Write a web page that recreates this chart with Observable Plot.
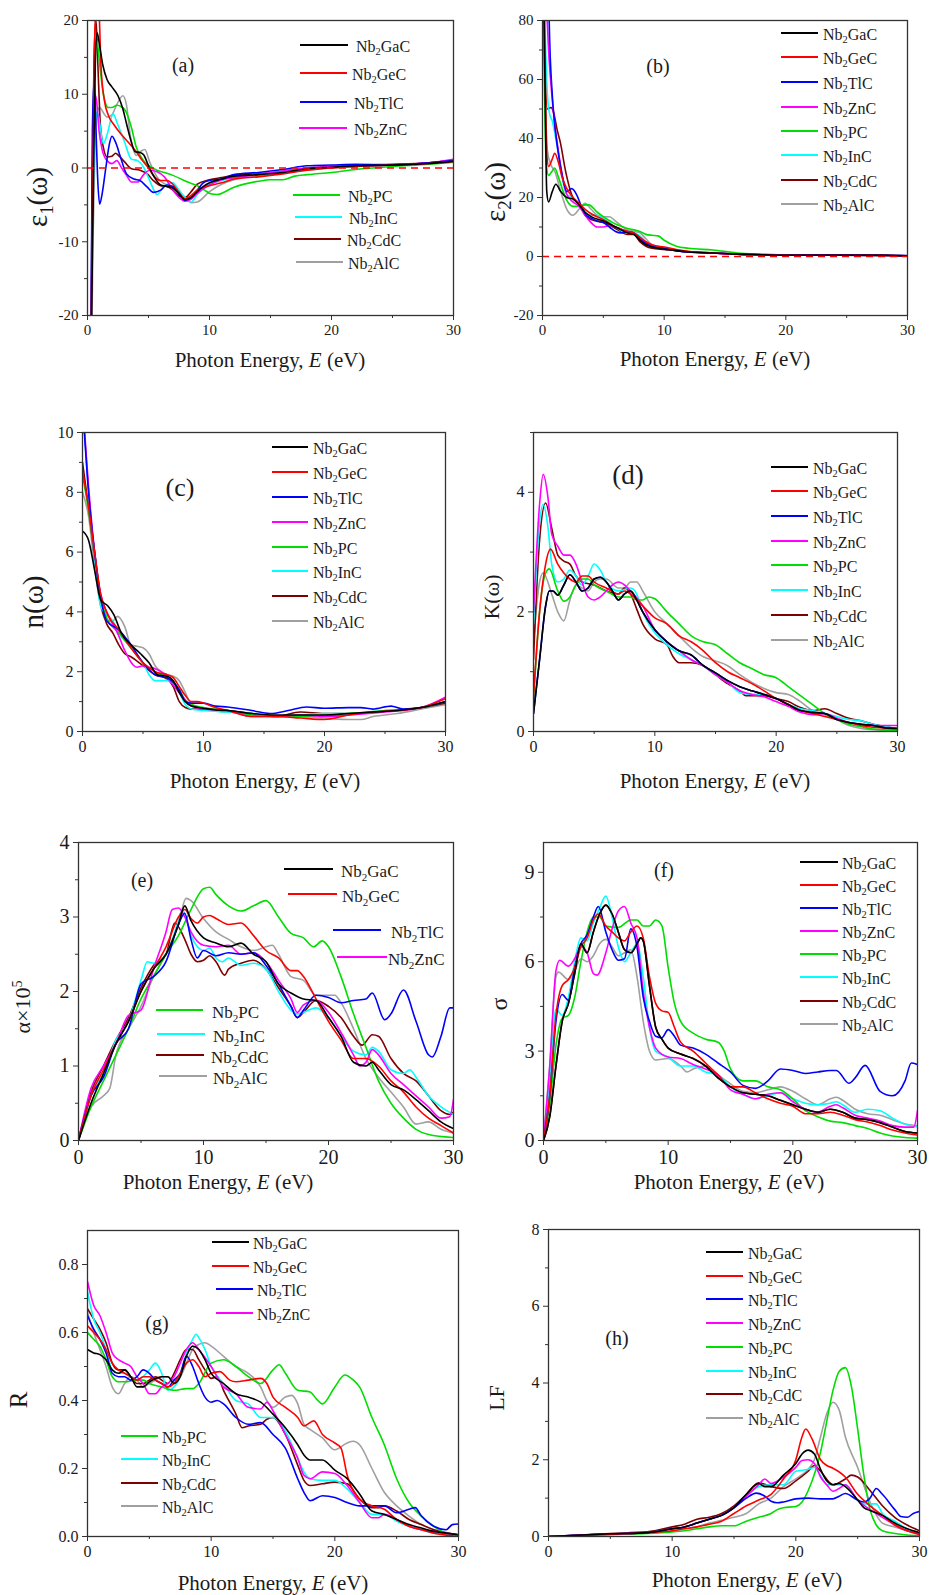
<!DOCTYPE html>
<html><head><meta charset="utf-8">
<script src="https://cdn.jsdelivr.net/npm/d3@7"></script>
<script src="https://cdn.jsdelivr.net/npm/@observablehq/plot@0.6"></script>
<style>
body{margin:0;background:#fff;}
#root{position:relative;width:929px;height:1595px;background:#fff;overflow:hidden;font-family:'Liberation Serif','Times New Roman',serif;color:#1a1a1a;}
.t{position:absolute;white-space:nowrap;line-height:1;font-family:'Liberation Serif','Times New Roman',serif;}
.s{font-size:65%;position:relative;top:0.32em;}
.sp{font-size:65%;position:relative;top:-0.55em;}
</style></head>
<body><div id="root"></div>
<script>
// ---- series ----
const names = ["GaC","GeC","TlC","ZnC","PC","InC","CdC","AlC"];
const colors = ["#000000","#ff0000","#0000ff","#ff00ff","#00dd00","#00ffff","#7f0000","#a0a0a0"];
const xTicks = [0,10,20,30];
const xMinor = [5,15,25];

// (a) eps1 : [E, value]
const eps1 = [
 [[0.25,-30],[0.5,0],[0.65,15],[0.8,18.3],[1.0,16.5],[1.25,14],[1.6,12],[2.0,11],[2.5,9.8],[2.9,8],[3.2,6],[3.6,3.5],[3.9,2.2],[4.3,2.1],[4.6,1.8],[5.0,0.3],[5.5,-1.3],[6.0,-2.3],[6.5,-2.5],[7.0,-2.7],[7.5,-3.5],[8.0,-4.3],[8.5,-4.0],[9.0,-3.2],[9.5,-2.5],[10,-2.0],[11,-1.5],[12,-1.1],[14,-0.9],[16,-0.6],[18,-0.1],[20,0.1],[22,0.3],[25,0.4],[28,0.6],[30,0.9]],
 [[0.25,-30],[0.45,0],[0.6,18],[0.75,23],[0.95,21],[1.1,14],[1.4,9],[1.7,7.2],[2.2,5.8],[2.8,4.5],[3.5,3.2],[4,2.2],[4.5,1.0],[5.0,0],[5.5,-1.2],[6.0,-1.7],[6.5,-1.7],[7.0,-2.2],[7.5,-3.3],[8.0,-4.2],[8.5,-3.7],[9,-3.0],[9.5,-2.6],[10,-2.4],[11,-2.0],[12,-1.5],[14,-1.2],[16,-0.8],[18,-0.3],[20,0],[22,0.2],[25,0.4],[28,0.6],[30,0.9]],
 [[0.25,-30],[0.4,5],[0.55,12],[0.7,5],[0.85,-2],[1.0,-4.9],[1.2,-3.5],[1.5,0],[1.8,3.3],[2.0,4.3],[2.3,3.5],[2.7,1.5],[3.2,-0.8],[3.8,-1.5],[4.3,-1.7],[4.9,-2.6],[5.4,-3.3],[6.0,-3.0],[6.5,-2.3],[7.0,-2.5],[7.5,-3.5],[8.0,-4.4],[8.5,-4.0],[9.0,-3.0],[9.5,-2.0],[10,-1.7],[11,-1.5],[12,-0.9],[14,-0.6],[16,-0.2],[18,0.3],[20,0.4],[22,0.5],[25,0.4],[28,0.7],[30,1.0]],
 [[0.25,-30],[0.45,2],[0.6,10],[0.75,9],[0.95,5],[1.2,2.5],[1.6,1.0],[2.0,0.6],[2.4,1.0],[2.8,0],[3.2,-1.0],[3.6,-1.9],[4.1,-1.9],[4.6,-0.9],[5.1,-0.3],[5.7,-0.5],[6.3,-1.2],[7.0,-3.0],[7.5,-4.0],[8.0,-4.5],[8.5,-4.2],[9.0,-3.4],[10,-2.3],[11,-1.6],[12,-1.3],[14,-0.9],[16,-0.4],[18,0],[20,0.2],[22,0.3],[25,0.4],[28,0.7],[30,1.2]],
 [[0.25,-30],[0.45,0],[0.6,14],[0.77,17.3],[1.0,14],[1.3,10],[1.7,8.2],[2.0,8.2],[2.4,8.5],[2.8,8.3],[3.1,7.8],[3.6,5.5],[4.0,2.8],[4.5,1.2],[4.9,0.5],[5.7,-0.3],[6.3,-0.6],[7.0,-1.0],[8.2,-1.9],[9.0,-2.4],[9.6,-3.0],[10.1,-3.5],[10.6,-3.6],[12,-2.6],[14,-1.8],[15,-1.6],[16,-1.6],[17,-1.1],[18,-0.9],[20,-0.6],[22,-0.2],[25,0.2],[28,0.5],[30,0.8]],
 [[0.25,-30],[0.45,-5],[0.6,5],[0.8,7.6],[1.0,6],[1.3,3.3],[1.6,4.5],[2.1,7.3],[2.5,5.8],[3.0,3.7],[3.6,1.2],[4.1,1.0],[4.6,0.1],[5.1,-1.7],[5.7,-3.6],[6.2,-2.6],[7.0,-2.0],[7.5,-3.0],[8.0,-4.0],[8.5,-4.6],[9.0,-3.6],[10,-2.2],[11,-1.7],[12,-1.3],[14,-0.9],[16,-0.5],[18,0],[20,0.1],[22,0.3],[25,0.4],[28,0.6],[30,0.9]],
 [[0.25,-30],[0.4,0],[0.55,16],[0.7,20],[0.85,14],[1.05,6],[1.3,2.8],[1.6,1.5],[2.0,1.6],[2.3,2.0],[2.6,1.6],[3.0,0.9],[3.6,-0.1],[4.3,-0.3],[4.9,-0.8],[5.4,-1.7],[6.0,-2.4],[6.5,-2.5],[7.0,-3.0],[7.5,-3.8],[8.0,-4.0],[8.5,-3.2],[9.0,-2.2],[10,-1.6],[11,-1.3],[12,-1.0],[14,-0.8],[16,-0.5],[18,0],[20,0.2],[22,0.4],[25,0.5],[28,0.7],[30,1.0]],
 [[0.3,-30],[0.45,-10],[0.6,2],[0.8,7.5],[1.0,8.2],[1.3,7.5],[1.6,6.9],[2.0,7.2],[2.4,8.6],[2.9,9.8],[3.2,8.5],[3.5,4.5],[3.8,2.3],[4.0,1.7],[4.4,2.3],[4.7,2.5],[5.1,0.8],[5.7,-1.2],[6.5,-2.3],[7.0,-2.5],[7.5,-3.2],[8.0,-4.0],[8.5,-4.7],[9.0,-4.6],[10,-3.2],[11,-2.2],[12,-1.6],[14,-1.1],[16,-0.7],[18,-0.3],[20,0],[22,0.2],[25,0.4],[28,0.6],[30,0.8]]
];

// (b) eps2
const eps2 = [
 [[0,120],[0.2,60],[0.35,22],[0.5,18.5],[0.8,22],[1.1,24.5],[1.5,22],[2.0,20],[2.5,19.5],[3.0,17.5],[3.5,15],[4,13.5],[5,12],[6,10],[7,8],[7.5,7.5],[8,5.5],[8.5,4],[9,3.2],[10,2.5],[11,2],[12,1.5],[14,1.2],[16,0.8],[18,0.6],[20,0.4],[25,0.4],[28,0.4],[30,0.2]],
 [[0,130],[0.2,70],[0.35,35],[0.5,30.5],[0.8,33],[1.0,35],[1.3,32],[1.6,27],[2.0,23],[2.5,20],[3.0,18],[3.5,16],[4,14.5],[5,12.5],[6,10],[7,8.5],[7.5,8],[8,6.5],[8.5,5],[9,4],[10,3.2],[11,2.4],[12,1.8],[14,1.2],[16,0.8],[18,0.6],[20,0.4],[25,0.4],[28,0.4],[30,0.2]],
 [[0,200],[0.4,120],[0.55,80],[0.8,55],[1.0,45],[1.3,35],[1.6,28],[2.0,22],[2.4,23],[2.8,21],[3.2,17],[3.6,14],[4,13],[4.5,12],[5,11.5],[5.5,10],[6,8.5],[6.5,8],[7,8.5],[7.5,8],[8,6],[8.5,4.5],[9,3.5],[10,2.8],[11,2.0],[12,1.5],[14,1.2],[16,0.8],[18,0.6],[20,0.5],[22,0.6],[25,0.6],[28,0.5],[30,0.3]],
 [[0,150],[0.3,90],[0.5,70],[0.7,58],[1.0,45],[1.3,36],[1.6,28],[2.0,21],[2.5,18.5],[3.0,17],[3.5,14],[4,11.5],[4.5,10],[5,10],[5.5,10.5],[6,10],[7,8.5],[7.5,8],[8,6.5],[8.5,4.5],[9,3.5],[10,2.6],[11,2.0],[12,1.6],[14,1.2],[16,0.8],[18,0.6],[20,0.4],[25,0.4],[30,0.2]],
 [[0,100],[0.15,60],[0.3,32],[0.5,27.5],[0.8,29],[1.0,30],[1.3,27],[1.7,22],[2.0,19],[2.5,17],[3.0,17],[3.5,17.5],[3.8,17.5],[4.5,15],[5,13.5],[6,11],[7,9.5],[8,8.5],[8.5,7.5],[9,7.2],[9.5,7],[10,5.5],[11,3.5],[12,2.8],[14,2.2],[16,1.2],[18,0.8],[20,0.5],[25,0.4],[30,0.2]],
 [[0,130],[0.2,80],[0.4,55],[0.6,48],[0.8,46],[1.0,42],[1.3,35],[1.6,27],[2.0,21],[2.5,20],[3.0,18],[3.5,15],[4,14],[4.5,14],[5,13],[6,10],[7,8],[7.5,8],[8,7],[8.5,5],[9,3.5],[10,2.6],[11,2.0],[12,1.5],[14,1.2],[16,0.8],[18,0.6],[20,0.4],[25,0.4],[30,0.2]],
 [[0,110],[0.2,65],[0.4,50],[0.7,50.5],[0.9,49],[1.2,43],[1.5,38],[1.8,31],[2.0,27],[2.5,20],[3.0,18],[3.5,14],[4,12.5],[5,11.5],[6,9.5],[7,7.5],[7.5,7.5],[8,5],[8.5,3.5],[9,2.8],[10,2.4],[11,2.0],[12,1.5],[14,1.2],[16,0.8],[18,0.6],[20,0.4],[25,0.4],[30,0.2]],
 [[0,110],[0.2,60],[0.4,36],[0.7,31],[1.0,29],[1.5,22],[2.0,16],[2.5,14],[3.0,16],[3.5,18],[4,16],[4.5,14],[5,13.5],[5.5,13.5],[6,12],[7,9],[7.5,8.5],[8,8],[8.5,6],[9,4],[10,3],[11,2.2],[12,1.6],[14,1.2],[16,0.8],[18,0.6],[20,0.4],[25,0.4],[30,0.2]]
];

// (c) refractive index n
const nIdx = [
 [[0,6.7],[0.5,6.4],[1,5.4],[1.5,4.4],[2.1,4.2],[2.6,3.9],[3.2,3.3],[4,2.9],[4.8,2.6],[5.5,2.3],[6.2,1.9],[7,1.85],[7.5,1.7],[8,1.3],[8.5,1.0],[9,0.85],[10,0.78],[11,0.72],[12,0.7],[14,0.6],[16,0.55],[18,0.55],[20,0.55],[22,0.6],[24,0.65],[26,0.7],[28,0.8],[30,1.0]],
 [[0,8.7],[0.5,7.5],[1,6],[1.5,4.6],[2.1,3.9],[3,3.4],[4,2.8],[5,2.3],[6,2.0],[7,1.9],[7.5,1.8],[8,1.5],[8.5,1.2],[9,1.0],[9.5,1.0],[10,0.95],[11,0.8],[12,0.7],[14,0.5],[16,0.5],[18,0.45],[20,0.4],[22,0.55],[24,0.65],[26,0.7],[28,0.8],[30,1.1]],
 [[0,11],[0.5,8],[1,6],[1.5,4.5],[2,3.7],[3,3.4],[4,2.9],[5,2.3],[6,1.9],[7,1.8],[8,1.4],[8.5,1.0],[9,0.95],[10,0.95],[11,0.85],[12,0.82],[14,0.7],[15.5,0.6],[17,0.7],[18.5,0.82],[20,0.78],[22,0.8],[23,0.8],[24,0.75],[25.5,0.85],[26.5,0.75],[28,0.8],[30,1.0]],
 [[0,11],[0.5,8.2],[1,6],[1.5,4.6],[2,4],[3,3.2],[3.5,2.7],[4.5,2.15],[5,2.2],[5.5,2.15],[6,2.1],[6.5,2.0],[7,1.8],[8,1.3],[9,0.85],[10,0.75],[12,0.7],[14,0.5],[16,0.5],[18,0.55],[20,0.5],[22,0.55],[25,0.65],[28,0.8],[30,1.15]],
 [[0,8.6],[0.5,7.4],[1,6],[1.5,4.5],[2,3.8],[3,3.3],[4,2.8],[5,2.3],[6,2.0],[7,1.8],[8,1.4],[8.5,1.05],[9,0.9],[10,0.8],[12,0.7],[14,0.55],[16,0.5],[18,0.5],[20,0.55],[22,0.6],[25,0.7],[28,0.8],[30,1.0]],
 [[0,11],[0.5,8],[1,5.8],[1.5,4.2],[2,3.9],[2.5,3.7],[3,3.3],[4,2.8],[5,2.3],[5.5,1.9],[6,1.7],[7,1.7],[8,1.3],[8.5,0.9],[9,0.75],[10,0.7],[12,0.65],[14,0.6],[16,0.5],[18,0.55],[20,0.6],[22,0.6],[25,0.7],[28,0.8],[30,1.0]],
 [[0,9],[0.5,7.5],[1,5.8],[1.5,4.3],[2,3.6],[2.5,3.3],[3,2.9],[3.5,2.6],[4,2.5],[5,2.2],[6,1.9],[7,1.75],[7.5,1.5],[8,1.0],[8.5,0.8],[9,0.75],[10,0.75],[12,0.7],[14,0.6],[16,0.5],[18,0.65],[20,0.6],[22,0.6],[24,0.65],[26,0.7],[28,0.8],[30,0.95]],
 [[0,8],[0.5,7.2],[1,5.5],[1.5,4.2],[2,3.7],[2.5,3.7],[2.9,3.85],[3.5,3.5],[4,2.9],[4.5,2.85],[5,2.8],[5.5,2.6],[6,2.2],[7,1.9],[7.5,1.85],[8,1.7],[8.5,1.3],[9,0.9],[10,0.75],[12,0.65],[14,0.6],[16,0.5],[18,0.5],[20,0.45],[22,0.4],[23,0.4],[24,0.5],[26,0.6],[28,0.75],[30,0.9]]
];

// (d) extinction coefficient K
const kExt = [
 [[0,0.3],[0.5,1.2],[1,2.1],[1.3,2.35],[1.6,2.35],[2,2.28],[2.5,2.45],[3,2.62],[3.5,2.5],[4,2.35],[4.5,2.4],[5,2.55],[5.5,2.58],[6,2.5],[6.5,2.35],[7,2.2],[7.5,2.3],[8,2.35],[8.5,2.2],[9,2.0],[10,1.7],[11,1.5],[12,1.35],[13,1.28],[14,1.1],[15,0.98],[16,0.85],[17,0.75],[18,0.68],[19,0.62],[20,0.55],[21,0.45],[22,0.35],[23,0.32],[24,0.3],[25,0.2],[26,0.15],[27,0.12],[28,0.1],[29,0.06],[30,0.05]],
 [[0,0.6],[0.5,2],[1,2.8],[1.4,3.05],[2,2.8],[2.5,2.65],[3,2.55],[3.5,2.5],[4,2.6],[4.5,2.6],[5,2.5],[6,2.4],[7,2.3],[7.5,2.35],[8,2.3],[9,2.1],[10,1.9],[11,1.8],[12,1.6],[13,1.5],[14,1.35],[15,1.15],[16,1.0],[17,0.9],[18,0.8],[19,0.68],[20,0.55],[21,0.45],[22,0.35],[23,0.3],[24,0.25],[25,0.2],[26,0.15],[27,0.1],[28,0.07],[30,0.05]],
 [[0,0.3],[0.5,1.2],[1,2.1],[1.3,2.35],[1.6,2.35],[2,2.28],[2.5,2.45],[3,2.62],[3.5,2.5],[4,2.35],[4.5,2.4],[5,2.55],[5.5,2.58],[6,2.5],[6.5,2.35],[7,2.2],[7.5,2.3],[8,2.35],[8.5,2.2],[9,2.0],[10,1.7],[11,1.5],[12,1.35],[13,1.28],[14,1.1],[15,0.98],[16,0.85],[17,0.75],[18,0.68],[19,0.62],[20,0.55],[21,0.45],[22,0.35],[23,0.32],[24,0.3],[25,0.2],[26,0.15],[27,0.12],[28,0.1],[29,0.06],[30,0.05]],
 [[0,2],[0.5,3.8],[0.8,4.3],[1.2,3.9],[1.5,3.3],[2,3.1],[2.5,2.95],[3,2.95],[3.5,2.8],[4,2.5],[4.5,2.25],[5,2.2],[5.5,2.25],[6,2.35],[6.5,2.45],[7,2.5],[7.5,2.45],[8,2.35],[9,2.1],[10,1.7],[11,1.5],[12,1.35],[13,1.2],[14,1.1],[15,0.95],[16,0.82],[17,0.68],[18,0.62],[19,0.58],[20,0.5],[21,0.42],[22,0.32],[23,0.28],[24,0.3],[25,0.22],[26,0.15],[28,0.1],[30,0.1]],
 [[0,0.5],[0.5,2],[1,2.65],[1.3,2.72],[2,2.35],[2.5,2.18],[3,2.25],[3.5,2.45],[4,2.55],[4.5,2.55],[5,2.45],[6,2.35],[7,2.25],[8,2.25],[8.5,2.2],[9,2.2],[9.5,2.25],[10,2.22],[11,2.0],[12,1.8],[13,1.6],[14,1.5],[15,1.45],[16,1.3],[17,1.15],[18,1.05],[19,0.95],[20,0.9],[21,0.75],[22,0.6],[23,0.45],[24,0.3],[25,0.2],[26,0.12],[27,0.08],[28,0.04],[30,0.02]],
 [[0,1.8],[0.5,3.5],[0.8,3.8],[1.2,3.4],[1.5,2.8],[2,2.5],[2.5,2.55],[3,2.7],[3.5,2.6],[4,2.45],[4.5,2.6],[5,2.8],[5.5,2.7],[6,2.5],[7,2.35],[8,2.4],[8.5,2.3],[9,2.0],[10,1.65],[11,1.45],[12,1.3],[13,1.2],[14,1.1],[15,0.95],[16,0.82],[17,0.65],[18,0.62],[19,0.62],[20,0.55],[21,0.45],[22,0.38],[23,0.35],[24,0.3],[25,0.25],[26,0.2],[27,0.18],[28,0.12],[30,0.05]],
 [[0,1.2],[0.5,3.2],[1.0,3.82],[1.5,3.4],[2,2.95],[2.5,2.85],[3,2.8],[3.5,2.6],[4,2.5],[5,2.45],[6,2.35],[7,2.3],[7.5,2.4],[8,2.3],[8.5,2.05],[9,1.8],[10,1.55],[11,1.45],[11.5,1.25],[12,1.15],[13,1.15],[14,1.1],[15,0.95],[16,0.8],[17,0.68],[17.5,0.6],[18,0.6],[19,0.6],[20,0.55],[21,0.5],[22,0.4],[23,0.35],[24,0.38],[25,0.3],[26,0.22],[27,0.18],[28,0.12],[29,0.08],[30,0.05]],
 [[0,1.5],[0.5,2.5],[0.8,2.65],[1.5,2.3],[2,2.0],[2.5,1.85],[3,2.2],[3.5,2.45],[4,2.4],[4.5,2.35],[5,2.5],[5.5,2.55],[6,2.55],[7,2.4],[7.5,2.4],[8,2.5],[8.5,2.5],[9,2.35],[10,2.0],[11,1.8],[12,1.6],[13,1.4],[14,1.25],[15,1.18],[16,1.1],[17,0.95],[18,0.82],[19,0.72],[20,0.65],[21,0.62],[22,0.5],[23,0.35],[24,0.28],[25,0.2],[26,0.1],[27,0.05],[28,0.03],[30,0.02]]
];

// (e) absorption alpha x10^5
const alpha = [
 [[0,0],[1,0.5],[2,0.9],[3,1.3],[4,1.6],[5,2.0],[6,2.3],[7,2.5],[8,2.9],[8.5,3.15],[9,2.95],[10,2.72],[11,2.65],[12,2.6],[13,2.65],[14,2.5],[15,2.4],[16,2.1],[17,1.98],[18,1.9],[19,1.88],[20,1.65],[21,1.4],[22,1.05],[23,1.0],[23.5,1.05],[24,0.95],[25,0.75],[26,0.68],[27,0.55],[28,0.4],[29,0.25],[30,0.16]],
 [[0,0],[1,0.6],[2,0.95],[3,1.3],[4,1.6],[5,2.0],[6,2.3],[7,2.6],[8,3.0],[8.5,3.1],[9,2.98],[9.5,2.92],[10,3.0],[10.5,3.02],[11,2.98],[12,2.9],[13,2.92],[14,2.75],[15,2.55],[16,2.45],[17,2.28],[17.5,2.28],[18,2.2],[19,1.9],[20,1.6],[21,1.35],[22,1.1],[23,1.1],[24,1.0],[25,0.8],[26,0.65],[27,0.45],[28,0.3],[29,0.2],[30,0.1]],
 [[0,0],[1,0.6],[2,0.85],[3,1.3],[4,1.5],[5,2.1],[6,2.2],[7,2.4],[8,2.9],[8.5,3.05],[9,2.7],[9.5,2.45],[10,2.55],[11,2.48],[12,2.52],[13,2.5],[14,2.52],[15,2.35],[16,2.1],[17,1.8],[17.5,1.65],[18,1.75],[19,1.95],[20,1.92],[21,1.85],[22,1.88],[23,1.9],[23.5,1.98],[24.5,1.62],[25,1.7],[26,2.02],[27,1.6],[28,1.15],[28.3,1.12],[29,1.4],[29.7,1.78],[30,1.78]],
 [[0,0],[1,0.7],[2,1.0],[3,1.3],[4,1.68],[5,1.75],[6,2.3],[7,2.8],[7.5,3.1],[8,3.12],[8.5,3.0],[9,2.8],[10,2.62],[11,2.6],[12,2.62],[13,2.5],[14,2.52],[15,2.4],[16,2.15],[17,1.9],[17.5,1.72],[18,1.82],[19,1.88],[20,1.72],[21,1.45],[22,1.15],[22.5,1.0],[23,1.05],[23.5,1.22],[24,1.15],[25,0.9],[26,0.75],[27,0.6],[28,0.45],[29,0.3],[29.7,0.32],[30,0.55]],
 [[0,0],[1,0.45],[2,0.8],[3,1.15],[4,1.5],[5,1.9],[6,2.2],[7,2.5],[8,2.75],[9,3.1],[10,3.38],[10.5,3.4],[11,3.3],[12,3.15],[13,3.08],[14,3.15],[15,3.22],[16,3.0],[17,2.78],[18,2.72],[18.8,2.6],[19.5,2.68],[20,2.6],[21,2.2],[22,1.7],[23,1.25],[24,0.8],[25,0.5],[26,0.3],[27,0.15],[28,0.08],[30,0.04]],
 [[0,0],[1,0.6],[2,0.9],[3,1.35],[4,1.6],[5,2.15],[5.5,2.4],[6,2.38],[7,2.5],[8,2.95],[8.3,3.1],[9,2.75],[10,2.55],[10.5,2.58],[11,2.45],[11.5,2.4],[12,2.45],[13,2.35],[14,2.38],[15,2.3],[16,2.0],[17,1.75],[17.5,1.7],[18,1.72],[19,1.78],[20,1.65],[21,1.4],[22,1.2],[23,1.15],[23.5,1.25],[24,1.2],[25,0.95],[26,0.9],[26.5,0.95],[27,0.85],[28,0.6],[29,0.45],[30,0.35]],
 [[0,0],[1,0.65],[2,1.0],[3,1.35],[4,1.65],[5,2.05],[6,2.35],[7,2.5],[7.7,2.92],[8.5,2.7],[9,2.5],[9.5,2.4],[10,2.42],[10.5,2.48],[11,2.4],[11.7,2.22],[12,2.3],[13,2.38],[14,2.42],[15,2.3],[16,2.05],[17,1.8],[17.5,1.65],[18,1.72],[19,1.88],[20,1.8],[21,1.65],[22,1.4],[22.7,1.28],[23.5,1.42],[24,1.4],[25,1.1],[26,0.9],[27,0.8],[28,0.6],[29,0.4],[29.7,0.35],[30,0.38]],
 [[0,0],[1,0.45],[2,0.6],[2.5,0.7],[3,1.15],[4,1.5],[5,1.8],[6,2.2],[7,2.5],[8,2.9],[8.6,3.25],[9,3.22],[10,2.98],[11,2.8],[12,2.7],[13,2.6],[14,2.55],[15,2.6],[15.5,2.62],[16,2.5],[17,2.2],[18,2.15],[19,1.95],[20,1.95],[20.5,1.95],[21,1.85],[22,1.5],[23,1.1],[24,0.85],[25,0.65],[26,0.45],[27,0.22],[28,0.25],[29,0.15],[30,0.1]]
];

// (f) optical conductivity sigma
const sigma = [
 [[0,0],[0.5,0.8],[1,2.5],[1.5,4.0],[2,4.6],[2.5,5.6],[3,6.6],[3.5,6.3],[4,7.0],[4.5,7.6],[5,7.9],[5.5,7.6],[6,7.0],[6.5,6.4],[7,6.3],[7.5,6.6],[7.8,6.8],[8,6.7],[8.5,5.2],[9,3.8],[9.5,3.4],[10,3.1],[11,2.9],[12,2.75],[13,2.5],[14,2.1],[15,1.8],[16,1.6],[17,1.55],[18,1.5],[19,1.35],[20,1.2],[21,1.05],[22,0.95],[23,1.05],[24,0.95],[25,0.75],[26,0.7],[27,0.6],[28,0.45],[29,0.3],[30,0.25]],
 [[0,0],[0.5,1.5],[1,4.2],[1.5,5.2],[2,5.4],[2.5,5.8],[3,6.5],[3.5,6.8],[4,7.4],[4.4,7.6],[5,7.2],[5.5,7.0],[6,6.8],[6.5,6.7],[7,7.0],[7.5,7.2],[8,6.8],[8.5,5.5],[9,4.6],[9.5,4.35],[10,4.3],[10.5,3.8],[11,3.3],[12,3.0],[13,2.6],[14,2.2],[15,1.8],[16,1.8],[17,1.6],[18,1.4],[19,1.25],[20,1.15],[21,0.9],[22,0.9],[23,0.95],[24,0.85],[25,0.7],[26,0.62],[27,0.5],[28,0.35],[29,0.25],[30,0.18]],
 [[0,0],[0.5,1.5],[1,4.0],[1.5,4.9],[2,4.7],[2.5,5.8],[3,6.6],[3.5,6.9],[4,7.5],[4.4,7.85],[5,7.0],[5.5,6.4],[6,6.05],[6.5,6.1],[7,7.1],[7.5,6.5],[8,4.8],[8.5,4.0],[9,3.5],[9.5,3.45],[10,3.72],[10.5,3.5],[11,3.2],[12,3.1],[13,2.9],[14,2.6],[15,2.3],[16,1.85],[17,1.75],[18,2.0],[19,2.4],[20,2.35],[21,2.25],[22,2.3],[23,2.35],[23.5,2.35],[24.5,1.92],[25,2.1],[25.8,2.52],[27,1.65],[28,1.5],[29,2.0],[29.5,2.6],[30,2.55]],
 [[0,0],[0.5,2.5],[1,5.7],[1.3,6.05],[2,5.85],[2.5,6.1],[3,6.5],[3.5,6.3],[4,5.6],[4.3,5.55],[5,6.3],[5.5,7.1],[6,7.7],[6.5,7.85],[7,7.3],[7.5,6.8],[8,5.0],[8.5,3.8],[9,3.1],[10,2.8],[11,2.75],[12,2.55],[13,2.4],[14,2.2],[15,1.7],[16,1.55],[17,1.4],[18,1.55],[19,1.6],[20,1.3],[21,1.05],[22,0.95],[23,1.15],[23.5,1.2],[24,1.1],[25,0.85],[26,0.75],[27,0.65],[28,0.5],[29,0.45],[29.7,0.45],[30,1.0]],
 [[0,0],[0.5,1.2],[1,3.2],[1.5,4.1],[2,4.2],[2.5,4.8],[3,6.0],[3.5,7.0],[4,7.5],[4.5,7.5],[5,7.2],[6,7.15],[7,7.4],[7.5,7.4],[8,7.2],[8.5,7.2],[9,7.4],[9.5,7.2],[10,5.8],[10.5,4.6],[11,4.0],[12,3.6],[13,3.4],[14,3.3],[14.5,3.0],[15,2.4],[16,2.0],[17,2.0],[18,1.8],[19,1.7],[20,1.4],[21,1.0],[22,0.8],[23,0.65],[24,0.6],[25,0.5],[26,0.4],[27,0.25],[28,0.15],[29,0.1],[30,0.08]],
 [[0,0],[0.5,2],[1,4.4],[1.5,4.2],[2,4.8],[2.5,6.0],[3,6.8],[3.5,6.7],[4,7.3],[4.5,7.8],[5,8.2],[5.5,7.5],[6,6.5],[6.5,6.0],[7,6.3],[7.5,6.6],[8,5.5],[8.5,3.8],[9,3.0],[10,2.8],[11,2.5],[12,2.5],[13,2.3],[14,2.2],[15,1.8],[16,1.55],[17,1.4],[18,1.5],[19,1.6],[20,1.4],[21,1.25],[22,1.2],[23,1.25],[23.5,1.3],[24,1.2],[25,0.95],[26,1.05],[27,1.0],[28,0.75],[29,0.55],[30,0.45]],
 [[0,0],[0.5,0.8],[1,2.5],[1.5,4.0],[2,4.6],[2.5,5.6],[3,6.6],[3.5,6.3],[4,7.0],[4.5,7.6],[5,7.9],[5.5,7.6],[6,7.0],[6.5,6.4],[7,6.3],[7.5,6.6],[7.8,6.8],[8,6.7],[8.5,5.2],[9,3.8],[9.5,3.4],[10,3.1],[11,2.9],[12,2.75],[13,2.5],[14,2.1],[15,1.8],[16,1.6],[17,1.55],[18,1.5],[19,1.35],[20,1.2],[21,1.05],[22,0.95],[23,1.05],[24,0.95],[25,0.75],[26,0.7],[27,0.6],[28,0.45],[29,0.3],[30,0.25]],
 [[0,0],[0.5,2.5],[1,5.5],[1.2,5.65],[2,5.4],[2.5,5.7],[3,6.1],[3.5,6.0],[4,6.2],[4.5,6.6],[5,6.75],[5.5,6.5],[6,6.2],[6.5,6.3],[7,6.4],[7.5,5.5],[8,4.0],[8.5,3.0],[9,2.7],[10,2.75],[11,2.5],[11.5,2.3],[12,2.4],[13,2.5],[14,2.2],[15,1.9],[16,1.65],[17,1.6],[18,1.7],[19,1.8],[20,1.65],[21,1.4],[22,1.2],[23,1.4],[23.5,1.45],[24,1.35],[25,1.05],[26,0.9],[27,0.85],[28,0.7],[29,0.55],[30,0.5]]
];

// (g) reflectivity R
const refl = [
 [[0,0.55],[0.5,0.54],[1,0.535],[1.5,0.52],[2,0.49],[2.5,0.48],[3,0.49],[3.5,0.47],[4,0.44],[4.5,0.44],[5,0.455],[5.5,0.465],[6,0.47],[6.5,0.47],[7,0.45],[7.5,0.47],[8,0.53],[8.5,0.56],[9,0.55],[9.5,0.52],[10,0.48],[11,0.45],[12,0.42],[13,0.41],[14,0.395],[15,0.36],[16,0.32],[17,0.27],[17.5,0.24],[18,0.225],[19,0.225],[20,0.195],[21,0.17],[22,0.125],[23,0.075],[24,0.065],[25,0.05],[26,0.035],[27,0.025],[28,0.015],[29,0.01],[30,0.005]],
 [[0,0.62],[0.5,0.6],[1,0.58],[1.5,0.55],[2,0.51],[2.5,0.49],[3,0.48],[3.5,0.47],[4,0.46],[4.5,0.47],[5,0.47],[5.5,0.46],[6,0.45],[6.5,0.44],[7,0.45],[7.5,0.48],[8,0.51],[8.5,0.52],[9,0.5],[9.5,0.47],[10,0.48],[10.7,0.485],[11.5,0.46],[12,0.455],[13,0.46],[14,0.465],[14.5,0.45],[15,0.41],[16,0.38],[17,0.35],[17.5,0.325],[18.3,0.34],[19,0.3],[20,0.275],[20.5,0.26],[21,0.18],[22,0.11],[23,0.09],[24,0.08],[25,0.05],[26,0.03],[27,0.02],[28,0.01],[30,0.0]],
 [[0,0.65],[0.5,0.61],[1,0.58],[1.5,0.54],[2,0.48],[2.5,0.47],[3,0.47],[3.5,0.46],[4,0.47],[4.5,0.49],[5,0.48],[5.5,0.46],[6,0.45],[6.5,0.44],[7,0.46],[7.5,0.48],[8,0.53],[8.5,0.5],[9,0.45],[9.5,0.41],[10,0.395],[10.5,0.4],[11,0.39],[12,0.35],[13,0.33],[14,0.335],[15,0.3],[16,0.26],[17,0.17],[17.5,0.13],[18,0.105],[19,0.12],[20,0.115],[21,0.1],[22,0.09],[23,0.09],[24,0.09],[25,0.07],[26,0.08],[26.5,0.085],[27,0.06],[28,0.03],[29,0.02],[29.5,0.035],[30,0.037]],
 [[0,0.75],[0.5,0.68],[1,0.65],[1.5,0.6],[2,0.54],[2.5,0.52],[3,0.51],[3.5,0.5],[4,0.47],[4.5,0.45],[5,0.42],[5.5,0.42],[6,0.44],[6.5,0.45],[7,0.47],[7.5,0.51],[8,0.55],[8.5,0.57],[9,0.55],[10,0.5],[11,0.44],[12,0.42],[13,0.38],[14,0.375],[14.5,0.395],[15,0.37],[16,0.3],[17,0.23],[17.5,0.18],[18,0.17],[19,0.19],[20,0.185],[21,0.15],[22,0.1],[23,0.055],[23.5,0.055],[24,0.065],[25,0.05],[26,0.03],[27,0.02],[28,0.015],[30,0.005]],
 [[0,0.6],[0.5,0.58],[1,0.56],[1.5,0.52],[2,0.47],[2.5,0.455],[3,0.455],[4,0.46],[4.5,0.46],[5,0.45],[6,0.44],[7,0.43],[8,0.435],[8.5,0.435],[9,0.45],[10,0.51],[11,0.52],[12,0.5],[13,0.47],[14,0.45],[15,0.49],[15.5,0.505],[16,0.48],[17,0.43],[18,0.425],[18.5,0.405],[19,0.39],[20,0.44],[20.8,0.475],[21.5,0.46],[22,0.44],[23,0.35],[24,0.27],[25,0.17],[26,0.1],[27,0.06],[28,0.03],[29,0.01],[30,0.005]],
 [[0,0.72],[0.5,0.64],[1,0.6],[1.5,0.55],[2,0.49],[2.5,0.48],[3,0.48],[3.5,0.47],[4,0.46],[4.5,0.47],[5,0.49],[5.5,0.51],[6,0.48],[6.5,0.43],[7,0.44],[7.5,0.47],[8,0.54],[8.5,0.58],[8.8,0.595],[9,0.585],[9.5,0.55],[10,0.5],[11,0.45],[12,0.4],[13,0.39],[14,0.35],[15,0.35],[16,0.31],[17,0.23],[17.5,0.19],[18,0.17],[19,0.165],[20,0.165],[21,0.14],[22,0.1],[23,0.065],[24,0.065],[25,0.045],[26,0.03],[27,0.02],[28,0.01],[30,0.005]],
 [[0,0.67],[0.5,0.64],[1,0.61],[1.5,0.57],[2,0.51],[2.5,0.49],[3,0.49],[3.5,0.47],[4,0.45],[4.5,0.45],[5,0.46],[5.5,0.47],[6,0.46],[6.5,0.45],[7,0.48],[7.5,0.52],[8,0.55],[8.5,0.55],[9,0.52],[9.5,0.49],[10,0.465],[10.5,0.47],[11,0.43],[12,0.36],[12.5,0.32],[13,0.325],[14,0.33],[14.5,0.345],[15,0.35],[16,0.3],[17,0.21],[17.5,0.165],[18,0.15],[19,0.155],[20,0.16],[21,0.155],[22,0.11],[23,0.085],[23.5,0.085],[24,0.09],[25,0.075],[26,0.05],[27,0.035],[28,0.02],[30,0.005]],
 [[0,0.66],[0.5,0.6],[1,0.55],[1.5,0.5],[2,0.44],[2.5,0.42],[3,0.45],[3.5,0.47],[4,0.46],[4.5,0.44],[5,0.45],[5.5,0.46],[6,0.47],[6.5,0.47],[7,0.46],[7.5,0.47],[8,0.51],[8.5,0.55],[9,0.565],[9.5,0.57],[10,0.56],[11,0.53],[12,0.5],[13,0.48],[14,0.44],[14.5,0.4],[15,0.38],[16,0.41],[16.5,0.415],[17,0.39],[17.5,0.33],[18,0.315],[19,0.29],[20,0.255],[21,0.275],[21.5,0.28],[22,0.27],[23,0.2],[24,0.13],[25,0.09],[26,0.06],[27,0.035],[28,0.02],[30,0.005]]
];

// (h) loss function LF
const lossF = [
 [[0,0],[5,0.07],[8,0.1],[10,0.2],[11,0.25],[12,0.35],[13,0.45],[14,0.55],[15,0.75],[16,1.1],[17,1.38],[17.5,1.3],[18,1.3],[19,1.6],[20,1.9],[20.5,2.15],[21,2.25],[21.5,2.15],[22,1.75],[22.5,1.45],[23,1.35],[23.5,1.38],[24,1.3],[25,0.95],[25.5,0.75],[26,0.68],[27,0.55],[28,0.35],[29,0.2],[30,0.1]],
 [[0,0],[5,0.06],[8,0.1],[10,0.15],[11,0.2],[12,0.25],[13,0.32],[14,0.4],[15,0.6],[16,0.8],[17,0.95],[18,1.1],[19,1.5],[20,2.0],[20.5,2.6],[20.8,2.8],[21.3,2.55],[22,2.0],[22.5,1.85],[23,1.78],[24,1.55],[25,1.1],[26,0.8],[27,0.55],[28,0.3],[29,0.15],[30,0.05]],
 [[0,0],[5,0.07],[8,0.1],[10,0.2],[11,0.25],[12,0.35],[13,0.45],[14,0.55],[15,0.75],[16,1.0],[16.8,1.13],[17.5,1.05],[18,0.92],[18.5,0.88],[19,0.9],[20,0.98],[21,1.0],[22,0.98],[23,0.98],[23.5,1.05],[24,1.12],[25,0.95],[25.5,0.9],[26,1.0],[26.5,1.25],[27,1.1],[28,0.7],[28.5,0.52],[29,0.5],[29.5,0.6],[30,0.65]],
 [[0,0],[5,0.07],[8,0.1],[10,0.2],[11,0.25],[12,0.35],[13,0.45],[14,0.55],[15,0.75],[16,1.05],[17,1.35],[17.5,1.5],[18,1.38],[19,1.55],[20,1.8],[20.5,1.98],[21,2.0],[21.5,1.9],[22,1.55],[22.5,1.35],[23,1.18],[23.5,1.25],[24,1.35],[25,0.95],[26,0.7],[27,0.5],[28,0.3],[29,0.15],[30,0.08]],
 [[0,0],[5,0.05],[8,0.08],[10,0.12],[11,0.15],[12,0.2],[13,0.25],[14,0.28],[15,0.28],[16,0.4],[17,0.5],[18,0.6],[18.5,0.7],[19,0.75],[20,0.78],[20.5,0.9],[21,1.2],[22,2.2],[22.5,3.0],[23,3.8],[23.5,4.3],[24,4.4],[24.5,3.9],[25,2.8],[25.5,1.6],[26,0.7],[26.5,0.3],[27,0.15],[28,0.08],[29,0.04],[30,0.02]],
 [[0,0],[5,0.07],[8,0.1],[10,0.2],[11,0.25],[12,0.35],[13,0.45],[14,0.55],[15,0.75],[16,1.05],[17,1.3],[18,1.35],[19,1.35],[20,1.7],[21,1.75],[21.5,1.8],[22,1.6],[22.5,1.35],[23,1.35],[24,1.35],[25,0.95],[25.5,0.85],[26,0.85],[26.5,0.85],[27,0.6],[28,0.4],[29,0.2],[30,0.1]],
 [[0,0],[5,0.08],[8,0.12],[10,0.25],[11,0.32],[12,0.45],[13,0.5],[14,0.6],[15,0.8],[16,1.1],[17,1.4],[18,1.3],[19,1.25],[20,1.45],[21,1.7],[21.5,1.85],[22,1.7],[23,1.35],[24,1.5],[24.5,1.6],[25,1.55],[26,1.2],[27,0.8],[28,0.5],[29,0.3],[30,0.15]],
 [[0,0],[5,0.06],[8,0.1],[10,0.15],[11,0.2],[12,0.25],[13,0.35],[14,0.42],[15,0.5],[16,0.6],[17,0.85],[18,1.0],[19,1.3],[20,1.5],[21,1.75],[21.5,2.0],[22,2.6],[22.5,3.2],[23,3.5],[23.5,3.3],[24,2.6],[25,1.8],[26,0.9],[27,0.35],[28,0.25],[29,0.15],[30,0.1]]
];

// ---- layout (page pixels) ----
const root = document.getElementById("root");
const FONT = "'Liberation Serif','Times New Roman',serif";

function addText(html, x, y, size, mode) {
  const d = document.createElement("div");
  d.className = "t";
  d.innerHTML = html;
  d.style.left = x + "px";
  d.style.top = y + "px";
  d.style.fontSize = size + "px";
  if (mode === "rot") d.style.transform = "translate(-50%,-50%) rotate(-90deg)";
  else if (mode === "left") d.style.transform = "translate(0,-50%)";
  else d.style.transform = "translate(-50%,-50%)";
  root.appendChild(d);
}

function addLegend(items, size) {
  items.forEach(([i, x1, x2, tx, y]) => {
    const l = document.createElement("div");
    l.style.cssText = `position:absolute;left:${x1}px;top:${y - 1}px;width:${x2 - x1}px;height:2px;background:${colors[i]};`;
    root.appendChild(l);
    addText(`Nb<span class="s">2</span>${names[i]}`, tx, y + 2, size, "left");
  });
}

function panel(cfg) {
  const [fx0, fy0, fx1, fy1] = cfg.frame;
  const ml = 60, mr = 12, mt = 12, mb = 40;
  const marks = [];
  for (let i = cfg.data.length - 1; i >= 0; i--) {
    marks.push(Plot.line(cfg.data[i], {x: d => d[0], y: d => d[1], stroke: colors[i], strokeWidth: 1.6, curve: "monotone-x", clip: true}));
  }
  if (cfg.zero) marks.push(Plot.ruleY([0], {stroke: "#ff0000", strokeWidth: 1.5, strokeDasharray: "7,5"}));
  marks.push(Plot.frame({stroke: "#333", strokeWidth: 1.3}));
  const fmt = cfg.yfmt || (d => String(d));
  marks.push(Plot.axisX({ticks: xTicks, tickSize: 5, tickPadding: 4, label: null, tickFormat: d => String(d), stroke: "#333"}));
  marks.push(Plot.axisX({ticks: xMinor, tickSize: 3, label: null, tickFormat: () => "", stroke: "#333"}));
  marks.push(Plot.axisY({ticks: cfg.yticks, tickSize: 5, tickPadding: 4, label: null, tickFormat: fmt, stroke: "#333"}));
  marks.push(Plot.axisY({ticks: cfg.yminor, tickSize: 3, label: null, tickFormat: () => "", stroke: "#333"}));
  const svg = Plot.plot({
    width: fx1 - fx0 + ml + mr, height: fy1 - fy0 + mt + mb,
    marginLeft: ml, marginRight: mr, marginTop: mt, marginBottom: mb,
    x: {domain: [0, 30]}, y: {domain: cfg.ydomain},
    style: {fontFamily: FONT, fontSize: cfg.tick + "px", color: "#1a1a1a", background: "transparent", overflow: "visible"},
    marks
  });
  svg.style.position = "absolute";
  svg.style.left = (fx0 - ml) + "px";
  svg.style.top = (fy0 - mt) + "px";
  root.appendChild(svg);
  addText(cfg.ylabel[0], cfg.ylabel[1], cfg.ylabel[2], cfg.ylabel[3], "rot");
  addText("Photon Energy, <i>E</i> (eV)", cfg.xlabel[0], cfg.xlabel[1], 21);
  addText(cfg.tag[0], cfg.tag[1], cfg.tag[2], cfg.tag[3]);
}

const L8 = (x1, x2, tx, ys) => ys.map((y, i) => [i, x1, x2, tx, y]);

panel({frame: [87, 20, 453, 315], data: eps1, ydomain: [-20, 20], yticks: [-20, -10, 0, 10, 20], yminor: [-15, -5, 5, 15], tick: 15, zero: true,
  ylabel: ["ε<span class='s'>1</span>(ω)", 37, 197, 29], xlabel: [270, 360], tag: ["(a)", 183, 65, 20]});
addLegend([[0, 300, 348, 356, 45], [1, 300, 347, 352, 73], [2, 300, 347, 354, 102], [3, 299, 347, 354, 128],
           [4, 293, 340, 348, 195], [5, 295, 342, 349, 217], [6, 294, 341, 347, 239], [7, 296, 343, 348, 262]], 16);

panel({frame: [542, 20, 907, 315], data: eps2, ydomain: [-20, 80], yticks: [-20, 0, 20, 40, 60, 80], yminor: [-10, 10, 30, 50, 70], tick: 15, zero: true,
  ylabel: ["ε<span class='s'>2</span>(ω)", 495, 192, 29], xlabel: [715, 359], tag: ["(b)", 658, 66, 20]});
addLegend(L8(781, 818, 823, [33, 57, 82, 107, 131, 155, 180, 204]), 16);

panel({frame: [82, 432, 445, 731], data: nIdx, ydomain: [0, 10], yticks: [0, 2, 4, 6, 8, 10], yminor: [1, 3, 5, 7, 9], tick: 16,
  ylabel: ["n(ω)", 33, 602, 29], xlabel: [265, 781], tag: ["(c)", 180, 488, 26]});
addLegend(L8(272, 308, 313, [447, 472, 497, 522, 547, 571, 596, 621]), 16);

panel({frame: [533, 432, 897, 731], data: kExt, ydomain: [0, 5], yticks: [0, 2, 4], yminor: [1, 3, 5], tick: 16,
  ylabel: ["K(ω)", 492, 597, 22], xlabel: [715, 781], tag: ["(d)", 628, 475, 27]});
addLegend(L8(771, 808, 813, [467, 491, 516, 541, 565, 590, 615, 640]), 16);

panel({frame: [78, 842, 453, 1140], data: alpha, ydomain: [0, 4], yticks: [0, 1, 2, 3, 4], yminor: [0.5, 1.5, 2.5, 3.5], tick: 20,
  ylabel: ["α×10<span class='sp'>5</span>", 23, 1007, 22], xlabel: [218, 1182], tag: ["(e)", 142, 880, 20]});
addLegend([[0, 284, 333, 341, 869], [1, 288, 337, 342, 894], [2, 333, 381, 391, 930], [3, 337, 387, 388, 957],
           [4, 156, 203, 212, 1010], [5, 157, 205, 213, 1034], [6, 156, 204, 211, 1055], [7, 159, 207, 213, 1076]], 17);

panel({frame: [543, 842, 917, 1140], data: sigma, ydomain: [0, 10], yticks: [0, 3, 6, 9], yminor: [1.5, 4.5, 7.5], tick: 20,
  ylabel: ["σ", 499, 1004, 24], xlabel: [729, 1182], tag: ["(f)", 664, 870, 20]});
addLegend(L8(800, 838, 842, [862, 885, 908, 931, 954, 977, 1001, 1024]), 16);

panel({frame: [87, 1230, 458, 1536], data: refl, ydomain: [0, 0.9], yticks: [0, 0.2, 0.4, 0.6, 0.8], yminor: [0.1, 0.3, 0.5, 0.7], tick: 16, yfmt: d3.format(".1f"),
  ylabel: ["R", 18, 1400, 25], xlabel: [273, 1583], tag: ["(g)", 157, 1323, 20]});
addLegend([[0, 212, 249, 253, 1242], [1, 212, 249, 253, 1266], [2, 216, 253, 257, 1289], [3, 216, 253, 257, 1313],
           [4, 121, 158, 162, 1436], [5, 121, 158, 162, 1459], [6, 121, 158, 162, 1483], [7, 121, 158, 162, 1506]], 16);

panel({frame: [548, 1229, 919, 1536], data: lossF, ydomain: [0, 8], yticks: [0, 2, 4, 6, 8], yminor: [1, 3, 5, 7], tick: 16,
  ylabel: ["LF", 497, 1398, 22], xlabel: [747, 1580], tag: ["(h)", 617, 1338, 20]});
addLegend(L8(706, 743, 748, [1252, 1276, 1299, 1323, 1347, 1371, 1394, 1418]), 16);
</script>
</body></html>
